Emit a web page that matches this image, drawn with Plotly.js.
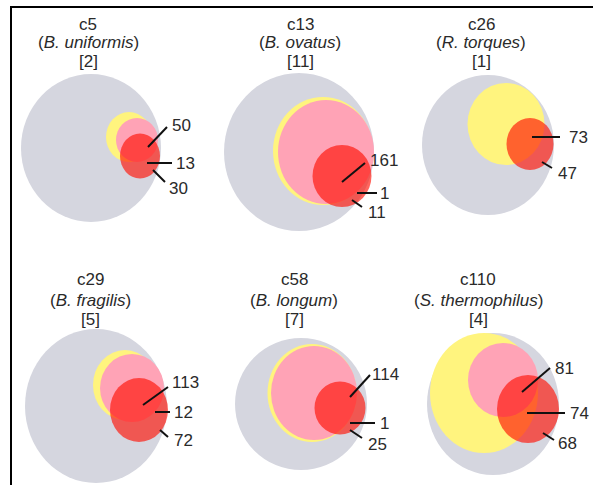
<!DOCTYPE html>
<html>
<head>
<meta charset="utf-8">
<script src="https://cdn.plot.ly/plotly-3.0.1.min.js"></script>
<style>html,body{margin:0;padding:0;background:#fff;}#chart{width:593px;height:485px;}</style>
</head>
<body>
<div id="chart"></div>
<script>
// ---- data ----
const clusters = ['c5', 'c13', 'c26', 'c29', 'c58', 'c110'];
const species = ['B. uniformis', 'B. ovatus', 'R. torques', 'B. fragilis', 'B. longum', 'S. thermophilus'];
const bracketCounts = [2, 11, 1, 5, 7, 4];
const topValues = [50, 161, 73, 113, 114, 81];
const midValues = [13, 1, null, 12, 1, 74];
const bottomValues = [30, 11, 47, 72, 25, 68];

// ---- layout geometry (pixel coordinates) ----
const titleX = [88, 300, 481, 90, 294, 478];
const titleY = [[24, 42, 61], [24, 42, 61], [24, 42, 61], [279, 300, 319], [279, 300, 319], [279, 300, 319]];
// circles: [cx, cy, rx, ry]
const grayC = [[91, 148, 70, 74], [299, 152, 75, 79], [488, 145, 66, 70], [96, 406, 71, 77], [301, 404, 66, 66], [493, 404, 66, 71]];
const yellowC = [[129, 137, 23, 25], [323, 151, 50, 54], [506, 124, 38.5, 41], [125, 385, 32, 35], [312, 393, 44.5, 49], [484, 393, 54, 60]];
const pinkC = [[137, 140, 21, 22], [326, 152, 48, 52], null, [132, 388, 32, 34], [314, 393, 43, 47], [503, 380, 35, 37]];
const redC = [[140, 156, 20, 22.5], [342, 176, 29.5, 31], [530, 144, 23.5, 26], [139, 410, 29, 32], [340, 408, 25.5, 26.5], [528, 409, 31, 34]];
// labels: [textX, textY, lineX0, lineY0, lineX1, lineY1]
const topLab = [[170, 125, 148, 147, 167, 127], [368, 160, 342, 182, 365, 163], [567, 137, 532, 137, 560, 137], [170, 382, 143, 405, 168, 387], [370, 374, 350, 397, 370, 375], [553, 368, 522, 392, 550, 368]];
const midLab = [[174, 163, 147, 163, 172, 163], [378, 193, 357, 193, 377, 193], null, [172, 412, 155, 412, 170, 412], [378, 423, 350, 423, 375, 423], [568, 413, 527, 413, 565, 413]];
const botLab = [[167, 188, 153, 170, 165, 182], [366, 212, 352, 200, 362, 207], [556, 173, 542, 162, 552, 168], [172, 440, 160, 430, 168, 437], [366, 444, 350, 430, 362, 438], [556, 443, 543, 433, 554, 440]];

const GRAY = '#d5d6df', YELLOW = '#fff47e', PINK = '#ffa3b6', RED = 'rgba(255,12,0,0.63)';
const FONT = {family: 'Liberation Sans, Arial, sans-serif', size: 17, color: '#2a2a2a'};

const shapes = [];
const annotations = [];
function circ(c, color) {
  if (!c) return;
  shapes.push({type: 'circle', xref: 'x', yref: 'y', x0: c[0] - c[2], x1: c[0] + c[2], y0: c[1] - c[3], y1: c[1] + c[3],
    fillcolor: color, line: {width: 0}, layer: 'above'});
}
function lab(l, v) {
  if (!l || v === null) return;
  shapes.push({type: 'line', xref: 'x', yref: 'y', x0: l[2], y0: l[3], x1: l[4], y1: l[5], line: {color: '#111', width: 2}, layer: 'above'});
  annotations.push({x: l[0], y: l[1], xref: 'x', yref: 'y', text: String(v), showarrow: false, xanchor: 'left', yanchor: 'middle', font: FONT});
}
for (let i = 0; i < clusters.length; i++) {
  circ(grayC[i], GRAY);
  circ(yellowC[i], YELLOW);
  circ(pinkC[i], PINK);
  circ(redC[i], RED);
  lab(topLab[i], topValues[i]);
  lab(midLab[i], midValues[i]);
  lab(botLab[i], bottomValues[i]);
  const lines = [clusters[i], '(<i>' + species[i] + '</i>)', '[' + bracketCounts[i] + ']'];
  lines.forEach((t, k) => annotations.push({x: titleX[i], y: titleY[i][k], xref: 'x', yref: 'y', text: t, showarrow: false,
    xanchor: 'center', yanchor: 'middle', font: FONT}));
}
// frame
shapes.push({type: 'line', xref: 'x', yref: 'y', x0: 10, y0: 7, x1: 593, y1: 7, line: {color: '#000', width: 2}});
shapes.push({type: 'line', xref: 'x', yref: 'y', x0: 11, y0: 6, x1: 11, y1: 485, line: {color: '#000', width: 2}});

const layout = {
  width: 593, height: 485, margin: {l: 0, r: 0, t: 0, b: 0},
  paper_bgcolor: '#fff', plot_bgcolor: '#fff', showlegend: false,
  xaxis: {range: [0, 593], visible: false, fixedrange: true},
  yaxis: {range: [485, 0], visible: false, fixedrange: true},
  shapes: shapes, annotations: annotations
};
Plotly.newPlot('chart', [{x: [], y: [], type: 'scatter', mode: 'markers', hoverinfo: 'skip'}], layout, {staticPlot: true, displayModeBar: false});
</script>
</body>
</html>
